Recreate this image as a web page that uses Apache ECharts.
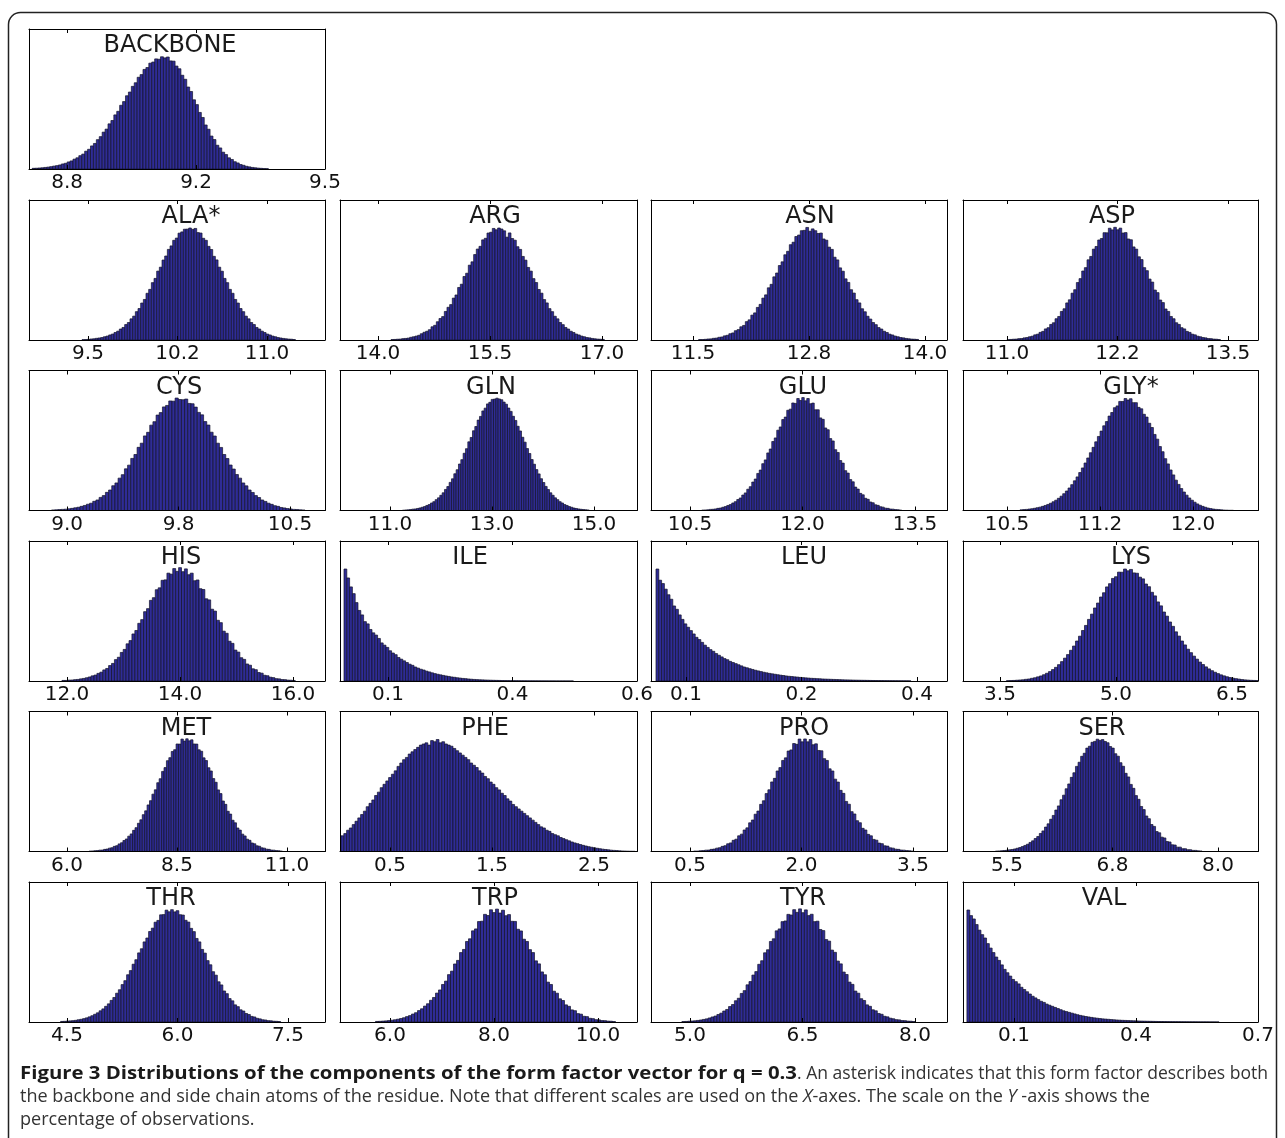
<!DOCTYPE html>
<html><head><meta charset="utf-8">
<style>html,body{margin:0;padding:0;background:#fff}#c{width:1285px;height:1138px}</style>
<script src="https://cdn.jsdelivr.net/npm/echarts@6/dist/echarts.min.js"></script>
</head><body><div id="c"></div>
<script>
// ---------------- DATA ----------------
const panelNames = ['BACKBONE','ALA*','ARG','ASN','ASP','CYS','GLN','GLU','GLY*','HIS','ILE','LEU','LYS','MET','PHE','PRO','SER','THR','TRP','TYR','VAL'];
const tickValues = [[8.85,9.175,9.5],[9.5,10.25,11.0],[14,15.5,17],[11.5,12.75,14],[11,12.25,13.5],[9,9.75,10.5],[11,13,15],[10.5,12,13.5],[10.5,11.25,12],[12,14,16],[0.14,0.37,0.6],[0.09,0.245,0.4],[3.5,5,6.5],[6,8.5,11],[0.5,1.5,2.5],[0.54,2.02,3.5],[5.5,6.75,8],[4.5,6,7.5],[6,8,10],[5,6.5,8],[0.14,0.42,0.7]];
const tickLabels = [['8.8','9.2','9.5'],['9.5','10.2','11.0'],['14.0','15.5','17.0'],['11.5','12.8','14.0'],['11.0','12.2','13.5'],['9.0','9.8','10.5'],['11.0','13.0','15.0'],['10.5','12.0','13.5'],['10.5','11.2','12.0'],['12.0','14.0','16.0'],['0.1','0.4','0.6'],['0.1','0.2','0.4'],['3.5','5.0','6.5'],['6.0','8.5','11.0'],['0.5','1.5','2.5'],['0.5','2.0','3.5'],['5.5','6.8','8.0'],['4.5','6.0','7.5'],['6.0','8.0','10.0'],['5.0','6.5','8.0'],['0.1','0.4','0.7']];
const axisMin = [8.754,9.006,13.491,11.047,10.502,8.744,10.02,9.98,10.145,11.327,0.0513,0.043,3.022,5.136,0.0098,0.022,4.979,3.984,5.038,4.48,0.023];
const axisMax = [9.5,11.486,17.469,14.237,13.839,10.735,15.843,13.927,12.524,16.566,0.6,0.4403,6.836,11.864,2.9216,3.951,8.474,8.002,10.75,8.427,0.7];
const binStart = [8.762,9.450,14.174,11.560,11.0,8.896,11.245,10.657,10.605,11.910,0.0587,0.0497,3.584,6.502,0.0196,0.588,5.363,4.413,5.721,4.892,0.032];
const binWidth = [0.00735,0.02235,0.03571,0.02963,0.03017,0.02130,0.04575,0.03333,0.02151,0.05162,0.00517,0.00376,0.0388,0.05492,0.02745,0.0365,0.0306,0.03733,0.05769,0.03889,0.00643];

const h_BACKBONE=[0.6,0.7,0.9,1.1,1.4,1.7,2.1,2.6,3.0,3.6,4.5,5.1,6.3,7.2,8.8,10,11.9,13.3,15.9,17.6,20.6,22.8,26.2,28.9,32.9,35.6,40.3,43.3,48.3,51.5,56.9,60.2,65.4,68.7,73.8,77,81.9,84.3,88.9,90.6,94.5,95.5,98.3,98,100.2,99.2,100,96.5,96.3,91.9,89.5,83.7,80.1,73.2,69.2,61.8,57.5,50.5,46,39.3,35.5,29.4,26.3,21.2,18.8,15,12.9,10,8.5,6.5,5.4,4,3.3,2.4,1.9,1.4,1.1,0.8,0.6,0.4,0.3];
const h_ALA=[0.3,0.4,0.6,0.9,1.1,1.5,1.8,2.2,2.9,3.5,4.5,5.3,6.7,7.9,9.8,11.2,13.8,15.6,18.9,21.3,25.3,28.1,33,36.2,41.7,45.2,51.2,55,61.5,65,71.4,75,80.9,84,89,91,95.4,96.5,98.9,99,100,98.8,99.6,95.9,95.5,90.8,89,83.6,80.8,74.7,71.5,65,61.4,55,51.2,45.2,41.7,36.2,33,28.1,25.3,21.3,18.9,15.6,13.8,11.2,9.8,7.9,6.7,5.3,4.5,3.5,2.9,2.2,1.8,1.4,1.1,0.8,0.7,0.4];
const h_ARG=[0.4,0.5,0.7,0.8,1.2,1.4,1.7,2.4,2.9,3.5,4.2,5.6,6.9,7.8,9.2,11.8,13.1,16.3,19.2,20.9,25.5,29.2,31.6,37.4,40.2,46.9,49.8,56.7,59.6,66.8,69.8,76.3,81.2,83.6,89.4,90.8,95.5,96.2,99.6,98.4,100,99.1,97.5,91.8,95.6,90.6,89.1,83.3,80.9,74.6,71.3,64.8,61.5,54.8,51.3,45.1,41.8,36.1,33.1,28,25.3,21.2,18.9,15.6,13.7,11.2,9.8,7.8,6.7,5.3,4.5,3.5,2.9,2.2,1.9,1.4,1.1,0.8,0.7,0.5];
const h_ASN=[0.4,0.4,0.6,0.9,1.0,1.5,1.7,2.4,2.7,3.7,4.2,5.6,6.3,8.3,9.3,11.8,13.0,16.4,18.0,22.2,24.2,29.1,31.8,37.4,40.3,46.6,49.7,56.4,59.8,66.5,69.8,76.1,79.2,85.1,87.3,92.4,93.7,97.6,97.9,100.5,97.1,99.2,97.6,95.1,95.5,90.2,89.1,82.9,80.9,73.9,71.5,64.4,61.4,54.6,51.4,44.9,41.9,36,33.1,27.9,25.2,21.2,18.7,15.6,13.7,11.1,9.8,7.8,6.7,5.2,4.5,3.5,2.9,2.2,1.9,1.4,1.1,0.8,0.7,0.5];
const h_ASP=[0.3,0.5,0.7,0.8,1.2,1.3,1.9,2.2,2.9,3.4,4.6,5.2,6.8,7.7,9.9,11.0,13.9,15.4,19.0,21.0,25.5,27.9,33.1,35.9,41.8,44.9,51.3,54.8,61.6,64.6,71.6,74.6,81.1,83.5,89.3,90.6,95.8,95.7,99.8,98.3,100.6,98.4,99.9,95.5,95.9,90.2,89.5,83.1,81.1,74.3,71.8,64.6,61.9,54.4,51.7,44.6,42.3,35.7,33.4,27.7,25.5,21.0,19.0,15.4,13.9,11.0,9.9,7.7,6.8,5.2,4.6,3.4,2.9,2.2,1.9,1.3,1.2,0.8,0.7,0.4];
const h_CYS=[0.5,0.6,0.8,1,1.2,1.5,1.9,2.4,2.9,3.7,4.5,5.6,6.5,8.2,9.4,11.7,13.3,16.2,18.3,22.1,24.6,28.9,32.0,37.2,40.5,46.5,50.0,56.4,60.1,66.6,69.8,76.2,79.3,85.2,87.4,92.5,93.8,97.8,97.6,100.4,99.1,98.9,99.5,95.6,95.3,92.3,87.6,85.4,79.4,76.3,69.9,66.5,60.1,56.3,50.0,46.4,40.6,37.0,32.1,28.9,24.6,22.0,18.3,16.1,13.3,11.6,9.4,8.1,6.5,5.5,4.3,3.7,2.7,2.3,1.7,1.4,1.0,0.9,0.6,0.5];
const h_GLN=[0.3,0.5,0.6,0.9,1.2,1.4,1.8,2.3,2.9,3.5,4.5,5.3,6.7,7.9,9.7,11.3,13.6,15.8,18.8,21.4,25.1,28.3,32.8,36.4,41.5,45.4,51.1,55.2,61.3,65.2,71.2,75,80.7,84,88.9,91.4,95.2,96.6,99.2,99.5,100.3,99.6,98.9,96.8,94.9,91.5,88.5,84.1,80.4,75.2,71,65.4,61,55.3,50.9,45.5,41.3,36.5,32.7,28.4,25,21.5,18.7,15.8,13.6,11.3,9.7,7.9,6.7,5.3,4.5,3.5,2.9,2.2,1.8,1.4,1.1,0.9,0.7,0.5];
const h_GLU=[0.4,0.5,0.6,1,1.1,1.4,1.9,2.2,2.9,3.5,4.5,5.3,6.7,7.9,9.8,11.2,13.8,15.7,19.0,21.3,25.4,28.1,33.1,36.1,41.8,45.2,51.4,54.9,61.6,64.8,71.7,74.6,81.2,83.4,89.5,90.5,96.0,95.6,100,98.2,100.8,97.9,100,95.3,95.9,89.9,89.9,82.7,81.4,73.7,72.1,64.2,62.1,54.3,51.8,44.6,42.3,35.6,33.4,27.6,25.6,20.9,19.1,15.3,14,10.9,10,7.6,6.9,5.1,4.6,3.4,3,2.1,1.9,1.3,1.2,0.8,0.7,0.4];
const h_GLY=[0.6,0.8,1,1.3,1.6,2,2.5,3,3.7,4.5,5.4,6.5,7.8,9.2,10.9,12.8,15,17.4,20.1,23.1,26.5,30,33.9,38,42.4,46.9,51.6,56.4,61.3,66.1,70.9,75.6,79.4,84.3,87.5,91.8,93.4,97.4,97.3,100,98.6,99.8,96.3,96.3,92.1,90.8,85.9,83.4,77.9,74.1,67.9,63.7,57.1,52.5,46.3,41.6,36.2,31.8,27.1,23.3,19.6,16.5,13.7,11.2,9.2,7.4,5.9,4.7,3.7,2.9,2.2,1.7,1.3,1,0.8,0.6,0.4,0.3,0.2,0.2];
const h_HIS=[0.5,0.5,0.8,0.9,1.2,1.4,1.9,2.3,2.9,3.6,4.6,5.3,6.8,7.9,9.9,11.2,13.8,15.7,19.1,21.2,25.5,28.2,33.2,36.1,42,45.1,51.5,54.8,61.9,64.6,72,74.4,81.5,83.2,89.9,90.3,96.3,95.4,100.4,97.9,101.2,97.6,100.1,94.9,96.3,89.5,90.2,82.4,81.7,73.4,72.4,64.1,62.4,54.2,52.1,44.5,42.6,35.5,33.6,27.6,25.8,20.8,19.3,15.2,14.1,10.9,10.1,7.6,7,5.1,4.7,3.4,3,2.1,1.9,1.3,1.2,0.8,0.7,0.4];
const h_ILE=[100,92,84,78,70,63,59,53,51,46,43,41,38,34,32,30,27,25,23.5,21,19.5,18,16.5,15,14,12.5,11.5,10.5,9.8,8.8,8.1,7.3,6.6,6,5.5,5,4.5,4.1,3.6,3.3,2.9,2.6,2.3,2.1,1.8,1.6,1.4,1.25,1.1,1,0.9,0.8,0.7,0.62,0.55,0.5,0.44,0.4,0.35,0.3,0.27,0.24,0.21,0.19,0.17,0.15,0.13,0.12,0.1,0.09,0.08,0.07,0.06,0.05,0.05,0.04,0.04,0.03,0.03,0.02,0.02,0.02];
const h_LEU=[100,90,87,82,77,73,67,64,59,55,51,48,45,42,39,37,34.5,32,30,28,26.5,24.5,23,21.5,20,19,17.5,16.5,15.5,14.5,13.5,12.5,11.8,11,10.3,9.6,9,8.4,7.8,7.3,6.8,6.4,6,5.6,5.2,4.9,4.5,4.2,4,3.7,3.5,3.2,3,2.8,2.6,2.4,2.3,2.1,2,1.8,1.7,1.6,1.5,1.4,1.3,1.2,1.1,1,0.95,0.9,0.8,0.75,0.7,0.65,0.6,0.55,0.5,0.46,0.42,0.38,0.35,0.32,0.3,0.27,0.25,0.22,0.2,0.18,0.16,0.14,0.12];
const h_LYS=[0.3,0.4,0.5,0.7,0.9,1.1,1.5,1.8,2.4,2.9,3.7,4.5,5.6,6.9,8.4,10.2,12.2,14.6,17.3,20.4,23.6,27.4,31.2,35.7,40,45.1,49.6,55,59.7,65.2,69.6,75,78.8,84,86.9,91.6,93.1,97.2,97.1,100,98.4,99.6,96.5,96.2,92.7,91.2,86.6,84.2,79.2,76,70.6,67.1,61.6,57.9,52.7,48.8,43.9,40.1,35.7,32.2,28.4,25.3,22.2,19.5,16.9,14.7,12.6,10.8,9.2,7.8,6.6,5.5,4.6,3.8,3.1,2.5,2.1,1.7,1.3,1,0.8,0.6,0.5,0.4];
const h_MET=[0.4,0.5,0.7,0.8,1.2,1.3,1.9,2.2,3,3.4,4.6,5.2,6.8,7.8,9.8,11.2,13.7,15.7,18.9,21.3,25.2,28.3,32.9,36.3,41.6,45.4,51.2,55.1,61.4,65,71.5,74.9,81.1,83.8,89.3,90.9,96,95.9,100.4,98.6,100.6,98.8,99.7,96,95.9,90.8,89.5,83.6,81.2,74.8,71.9,65.1,61.8,55,51.7,45.1,42.1,35.9,33.4,27.9,25.6,21,19.1,15.5,13.9,11,10,7.6,6.9,5.1,4.7,3.3,3,2.1,1.9,1.3,1.2,0.8,0.7,0.4];
const h_PHE=[14,16,19,21,24,27,30,33,36,40,43,46,50,53,57,60,63,66,69,72,76,79,82,84,87,89,91,93,95,96,97,95,99,98,100,97,98,96,95,94,92,90,88,86,84,82,79,77,75,72,70,67,65,62,60,57,55,52,50,47,45,42,40,38,36,34,32,30,28,26,24,22,21,19,18,16,15,14,12.5,11.5,10.5,9.5,8.5,7.7,7,6.2,5.5,4.9,4.3,3.8,3.3,2.9,2.5,2.1,1.8,1.5,1.2,1,0.8,0.6,0.5,0.4,0.3,0.25,0.2];
const h_PRO=[0.4,0.4,0.7,0.8,1.2,1.3,1.9,2.2,3,3.4,4.6,5.2,6.9,7.7,10,11,14,15.5,19.2,21.1,25.6,28.1,33.3,36.1,42.1,45.3,51.7,55.1,62.1,65.3,71.9,74.9,81.3,83.6,89.7,90.7,96.4,95.7,100.4,97.9,100.5,97.9,100,95.3,96.1,90.2,89.9,82.9,81.3,73.8,71.9,64.6,62,54.6,51.9,44.7,42.2,35.6,33.5,27.5,25.7,20.7,19.2,15.3,14,10.8,10.1,7.5,7,5.1,4.8,3.3,3,2.1,1.9,1.3,1.2,0.8,0.7,0.4];
const h_SER=[0.4,0.5,0.7,0.9,1.1,1.5,1.8,2.3,2.9,3.5,4.4,5.4,6.5,8.1,9.5,11.6,13.4,16.1,18.4,21.8,24.7,28.8,32.2,37,40.7,46.2,50.3,56,60.3,66.2,70.3,76,79.7,85,87.7,92.3,94,97.5,98.3,100.3,99.2,99.9,98.2,97.1,93.7,92.3,87.3,85.1,79.3,76.1,69.8,66.6,59.9,56.4,49.9,46.6,40.2,37.4,31.7,29.3,24.1,22.4,17.8,16.7,12.8,12.1,8.9,8.5,6,5.8,3.9,3.9,2.5,2.5,1.6,1.6,1,1,0.6,0.5];
const h_THR=[0.5,0.6,0.8,1,1.2,1.5,2,2.4,3,3.7,4.6,5.6,6.9,8.2,10,11.7,14,16.2,19.3,21.9,25.7,28.8,33.4,36.9,42.2,45.9,51.6,55.6,61.7,65.4,71.5,75,80.8,83.8,89.1,90.7,95.7,95.9,99.9,98.4,100.3,98.3,99.4,95.8,95.5,90.8,89.2,83.6,80.7,74.6,71.5,64.8,61.5,54.8,51.1,44.9,41.8,35.9,33.1,27.7,25.3,20.9,18.9,15.3,13.7,10.9,9.8,7.6,6.7,5,4.5,3.3,2.8,2,1.8,1.2,1.1,0.7,0.6,0.4];
const h_TRP=[0.5,0.6,0.8,1,1.3,1.6,2,2.5,3.1,3.8,4.8,5.7,7.1,8.3,10.2,11.8,14.2,16.3,19.4,21.9,25.8,28.6,33.5,36.5,42.3,45.4,51.8,55,62,64.8,71.9,74.3,81.4,83.1,89.7,90,96.1,95.1,100.2,97.7,100.8,97.3,99.8,94.9,95.9,89.9,89.8,82.8,81.3,73.9,71.9,64.6,62,54.6,51.9,44.7,42.2,35.6,33.5,27.5,25.7,20.7,19.2,15.3,14,10.8,10.1,7.5,7,5.1,4.8,3.3,3,2.1,1.9,1.3,1.2,0.8,0.7,0.4];
const h_TYR=[0.4,0.5,0.7,0.9,1.1,1.4,1.8,2.3,2.8,3.6,4.5,5.3,6.7,7.9,9.8,11.2,13.8,15.6,19,21.2,25.5,28,33.2,36.1,41.9,45,51.5,54.7,61.8,64.5,71.9,74.3,81.4,83.1,89.6,90.2,96.1,95.5,100.3,97.9,101,97.6,100.1,95,96.2,89.6,90,82.6,81.6,73.6,72.2,64.2,62.2,54.4,51.9,44.6,42.4,35.6,33.6,27.6,25.7,20.8,19.2,15.3,14,10.9,10,7.6,6.9,5.1,4.6,3.4,2.9,2.1,1.9,1.3,1.2,0.8,0.7,0.4];
const h_VAL=[100,95,92,87,82,78,75,70,66,62,58,55,51,47,44,41,38,36,34,31,29,27,25,23,21.5,20,18.5,17.5,16,15,14,13,12,11,10,9.3,8.6,7.9,7.2,6.5,5.9,5.4,4.9,4.5,4.1,3.7,3.4,3.1,2.8,2.6,2.4,2.2,2,1.8,1.65,1.5,1.4,1.3,1.2,1.1,1,0.9,0.82,0.75,0.68,0.62,0.56,0.5,0.46,0.42,0.38,0.35,0.32,0.29,0.26,0.24,0.22,0.2,0.18,0.16,0.15,0.14,0.12,0.11,0.1,0.09,0.08,0.07,0.06,0.05];
const heights = [h_BACKBONE,h_ALA,h_ARG,h_ASN,h_ASP,h_CYS,h_GLN,h_GLU,h_GLY,h_HIS,h_ILE,h_LEU,h_LYS,h_MET,h_PHE,h_PRO,h_SER,h_THR,h_TRP,h_TYR,h_VAL];
const yTop = 125;

const captionBold = 'Figure 3 Distributions of the components of the form factor vector for q = 0.3';
const captionRest1 = '. An asterisk indicates that this form factor describes both';
const captionLine2 = ['the backbone and side chain atoms of the residue. Note that different scales are used on the ', 'X', '-axes. The scale on the ', 'Y', ' -axis shows the'];
const captionLine3 = 'percentage of observations.';

// ---------------- LAYOUT / STYLE ----------------
const colLeft = [29, 340, 651, 963];
const colWidth = [296, 297, 296, 295];
const rowTop = [29, 200, 370.5, 541, 711.5, 882];
const boxH = 140;
const titleX = [170,191,495,810,1112,179,491,803,1131,181,470,804,1131,186,485,804,1102,171,495,803,1104];
const FONT = 'DejaVu Sans';
const BAR_FILL = '#2f2c96';
const BAR_EDGE = '#12122a';
const CAP_FONT = 'Open Sans';
const CAP_SIZE = 18;
const capY = [1074, 1097, 1120];
const capLeft = 20, boldEnd = 797, line1End = 1268, line2End = 1150;

const chart = echarts.init(document.getElementById('c'), null, {renderer: 'canvas'});
const grids = [], xAxes = [], yAxes = [], series = [], graphics = [];

panelNames.forEach((name, i) => {
  const row = i === 0 ? 0 : 1 + Math.floor((i - 1) / 4);
  const col = i === 0 ? 0 : (i - 1) % 4;
  const L = colLeft[col], T = rowTop[row], W = colWidth[col];
  grids.push({left: L, top: T, width: W, height: boxH});
  const tv = tickValues[i], tl = tickLabels[i];
  const fmt = v => { for (let k = 0; k < tv.length; k++) if (Math.abs(tv[k] - v) < 1e-9) return tl[k]; return ''; };
  xAxes.push({
    type: 'value', gridIndex: i, min: axisMin[i], max: axisMax[i], position: 'bottom', z: 10,
    axisLine: {show: true, onZero: false, lineStyle: {color: '#000', width: 1}},
    axisTick: {show: true, inside: true, length: 4, customValues: tv, lineStyle: {color: '#000'}},
    axisLabel: {show: true, customValues: tv, formatter: fmt, fontFamily: FONT, fontSize: 20, color: '#111', margin: 4, showMinLabel: true, showMaxLabel: true, hideOverlap: false},
    splitLine: {show: false}
  });
  xAxes.push({
    type: 'value', gridIndex: i, min: axisMin[i], max: axisMax[i], position: 'top', z: 10,
    axisLine: {show: true, onZero: false, lineStyle: {color: '#000', width: 1}},
    axisTick: {show: true, inside: true, length: 4, customValues: tv, lineStyle: {color: '#000'}},
    axisLabel: {show: false}, splitLine: {show: false}
  });
  yAxes.push({type: 'value', gridIndex: i, min: 0, max: yTop, position: 'left', z: 10,
    axisLine: {show: true, lineStyle: {color: '#000', width: 1}}, axisTick: {show: false}, axisLabel: {show: false}, splitLine: {show: false}});
  yAxes.push({type: 'value', gridIndex: i, min: 0, max: yTop, position: 'right', z: 10,
    axisLine: {show: true, lineStyle: {color: '#000', width: 1}}, axisTick: {show: false}, axisLabel: {show: false}, splitLine: {show: false}});
  const h = heights[i], s = binStart[i], w = binWidth[i];
  series.push({
    type: 'custom', xAxisIndex: 2 * i, yAxisIndex: 2 * i, clip: true, silent: true,
    data: h.map((v, j) => [s + j * w, s + (j + 1) * w, v]),
    encode: {x: [0, 1], y: 2},
    renderItem: (params, api) => {
      const p0 = api.coord([api.value(0), api.value(2)]);
      const p1 = api.coord([api.value(1), 0]);
      return {type: 'rect', shape: {x: p0[0], y: p0[1], width: p1[0] - p0[0], height: p1[1] - p0[1]},
        style: {fill: BAR_FILL, stroke: BAR_EDGE, lineWidth: 0.7}};
    }
  });
  graphics.push({type: 'text', x: titleX[i], y: T + 17, z: 20,
    style: {text: name, font: '24px "' + FONT + '"', fill: '#1a1a1a', textAlign: 'center', textVerticalAlign: 'middle'}});
});

// outer border
graphics.push({type: 'rect', z: 0, shape: {x: 8.5, y: 12.5, width: 1268, height: 1160, r: 12},
  style: {fill: null, stroke: '#222', lineWidth: 1.5}});

// caption, condensed to the reference widths
const mctx = document.createElement('canvas').getContext('2d');
const measure = (font, t) => { mctx.font = font; return mctx.measureText(t).width; };
const fB = 'bold ' + CAP_SIZE + 'px "' + CAP_FONT + '"';
const fN = CAP_SIZE + 'px "' + CAP_FONT + '"';
const fI = 'italic ' + CAP_SIZE + 'px "' + CAP_FONT + '"';
const sB = (boldEnd - capLeft) / measure(fB, captionBold);
const sN1 = (line1End - boldEnd) / measure(fN, captionRest1);
const w2 = captionLine2.reduce((a, t, k) => a + measure(k % 2 ? fI : fN, t), 0);
const s2 = (line2End - capLeft) / w2;
graphics.push({type: 'text', x: capLeft, y: capY[0], scaleX: sB, z: 20,
  style: {text: captionBold, font: fB, fill: '#1a1a1a', textVerticalAlign: 'middle'}});
graphics.push({type: 'text', x: boldEnd, y: capY[0], scaleX: sN1, z: 20,
  style: {text: captionRest1, font: fN, fill: '#333', textVerticalAlign: 'middle'}});
graphics.push({type: 'text', x: capLeft, y: capY[1], scaleX: s2, z: 20, style: {
  text: captionLine2.map((t, k) => (k % 2 ? '{i|' : '{n|') + t + '}').join(''),
  textVerticalAlign: 'middle',
  rich: {n: {fontFamily: CAP_FONT, fontSize: CAP_SIZE, fill: '#333'}, i: {fontFamily: CAP_FONT, fontStyle: 'italic', fontSize: CAP_SIZE, fill: '#333'}}}});
graphics.push({type: 'text', x: capLeft, y: capY[2], scaleX: s2, z: 20,
  style: {text: captionLine3, font: fN, fill: '#333', textVerticalAlign: 'middle'}});

chart.setOption({animation: false, backgroundColor: '#fff', grid: grids, xAxis: xAxes, yAxis: yAxes, series: series, graphic: graphics});
</script></body></html>
